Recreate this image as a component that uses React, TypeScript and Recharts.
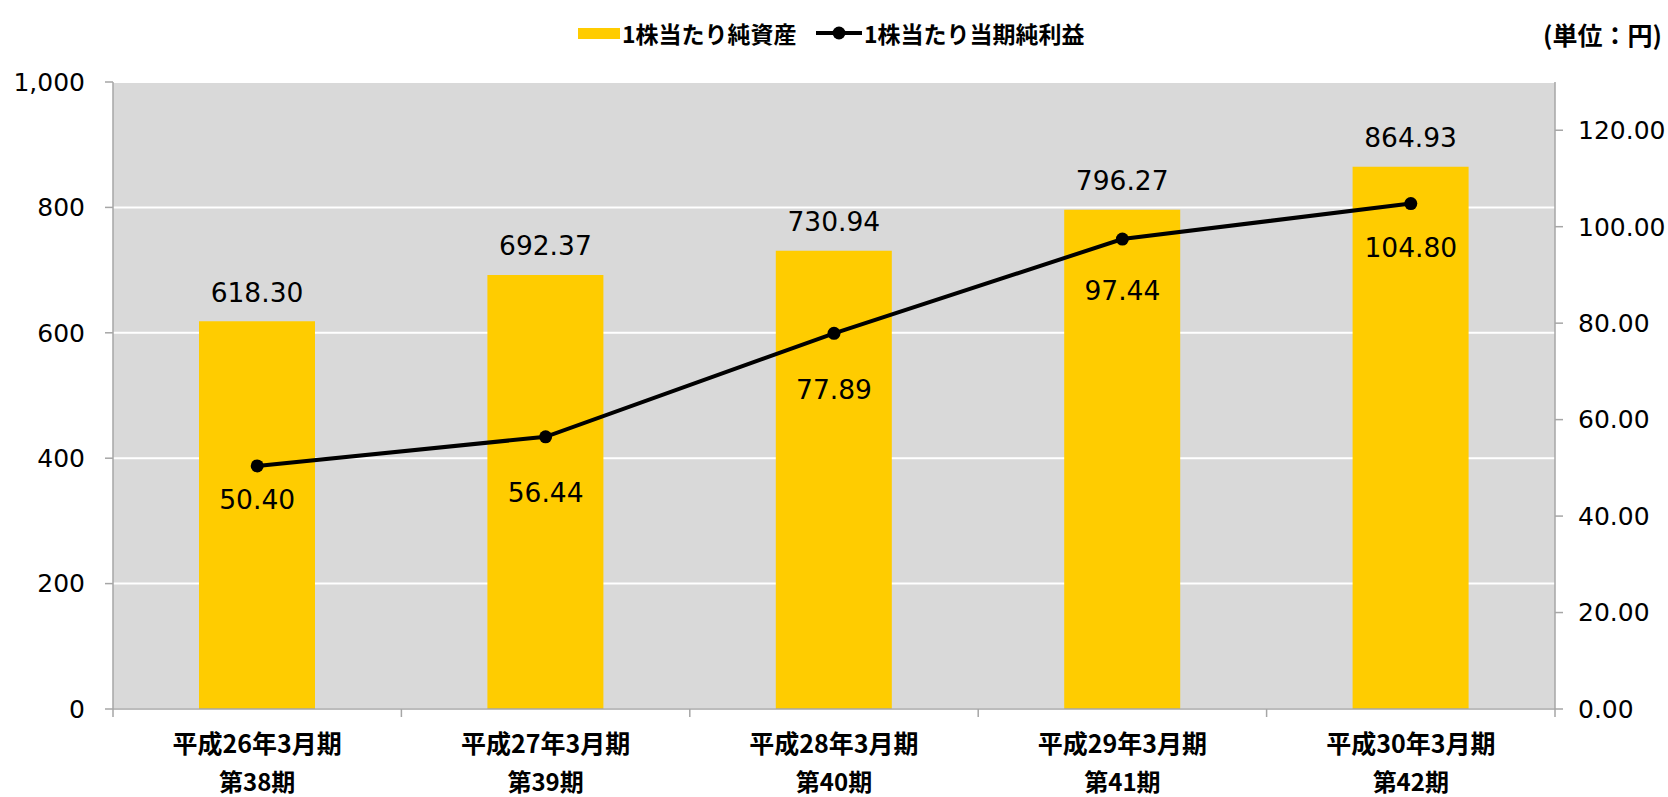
import React from 'react';
import {
  ComposedChart,
  Bar,
  Line,
  XAxis,
  YAxis,
  CartesianGrid,
  Legend,
  LabelList,
} from 'recharts';

const fiscalYears = ['平成26年3月期', '平成27年3月期', '平成28年3月期', '平成29年3月期', '平成30年3月期'];
const periods = ['第38期', '第39期', '第40期', '第41期', '第42期'];
const bookValuePerShare = [618.3, 692.37, 730.94, 796.27, 864.93];
const earningsPerShare = [50.4, 56.44, 77.89, 97.44, 104.8];
const leftTicks = [0, 200, 400, 600, 800, 1000];
const rightTicks = [0, 20, 40, 60, 80, 100, 120];

const data = fiscalYears.map((fy, i) => ({
  name: fy,
  period: periods[i],
  bps: bookValuePerShare[i],
  eps: earningsPerShare[i],
}));

const W = 1668;
const H = 797;
const PLOT_LEFT = 113;
const PLOT_RIGHT = 1555;
const PLOT_TOP = 82;
const PLOT_BOTTOM = 709;
const BAND = (PLOT_RIGHT - PLOT_LEFT) / fiscalYears.length;
const AXIS_COLOR = '#A6A6A6';
const NUM_FONT = '"DejaVu Sans", Verdana, sans-serif';
const CJK_FONT = '"Noto Sans CJK JP", "Noto Sans", sans-serif';
const EPS_LABEL_DY = [34, 56, 56, 51, 44];
const BPS_LABEL_DY = 29;

const XTick = (props: any) => {
  const { x, y, index } = props;
  const isLast = index === fiscalYears.length - 1;
  return (
    <g>
      <line x1={x - BAND / 2} y1={y} x2={x - BAND / 2} y2={y + 8} stroke={AXIS_COLOR} strokeWidth={1.5} />
      {isLast && (
        <line x1={x + BAND / 2} y1={y} x2={x + BAND / 2} y2={y + 8} stroke={AXIS_COLOR} strokeWidth={1.5} />
      )}
      <text x={x} y={y + 33} textAnchor="middle" dominantBaseline="central" fontFamily={CJK_FONT} fontWeight={700} fontSize={25} fill="#000">
        {fiscalYears[index]}
      </text>
      <text x={x} y={y + 71} textAnchor="middle" dominantBaseline="central" fontFamily={CJK_FONT} fontWeight={700} fontSize={24} fill="#000">
        {periods[index]}
      </text>
    </g>
  );
};

const BpsLabel = (props: any) => {
  const { x, y, width, value } = props;
  return (
    <text x={x + width / 2} y={y - BPS_LABEL_DY} textAnchor="middle" dominantBaseline="central" fontFamily={NUM_FONT} fontSize={26.5} fill="#000">
      {Number(value).toFixed(2)}
    </text>
  );
};

const EpsLabel = (props: any) => {
  const { x, y, value, index } = props;
  return (
    <text x={x} y={y + EPS_LABEL_DY[index]} textAnchor="middle" dominantBaseline="central" fontFamily={NUM_FONT} fontSize={26.5} fill="#000">
      {Number(value).toFixed(2)}
    </text>
  );
};

const LegendContent = () => (
  <svg width={W} height={60} style={{ display: 'block' }}>
    <rect x={578} y={28} width={42} height={11} fill="#FFCC00" />
    <text x={622} y={33} dominantBaseline="central" fontFamily={CJK_FONT} fontWeight={700} fontSize={23} fill="#000">
      1株当たり純資産
    </text>
    <line x1={816} y1={33} x2={862} y2={33} stroke="#000" strokeWidth={4} />
    <circle cx={839} cy={33} r={6.5} fill="#000" />
    <text x={864} y={33} dominantBaseline="central" fontFamily={CJK_FONT} fontWeight={700} fontSize={23} fill="#000">
      1株当たり当期純利益
    </text>
    <text x={1662} y={34} textAnchor="end" dominantBaseline="central" fontFamily={CJK_FONT} fontWeight={700} fontSize={25} fill="#000">
      (単位：円)
    </text>
  </svg>
);

export default function App() {
  return (
    <div style={{ position: 'absolute', left: 0, top: 0, width: W, height: H, background: '#fff' }}>
      <ComposedChart
        width={W}
        height={H}
        data={data}
        margin={{ top: PLOT_TOP, bottom: 0, left: 0, right: 0 }}
        barCategoryGap={0}
      >
        <CartesianGrid yAxisId="left" vertical={false} stroke="#FFFFFF" strokeWidth={2} fill="#D9D9D9" />
        <XAxis
          dataKey="name"
          height={H - PLOT_BOTTOM}
          axisLine={{ stroke: AXIS_COLOR, strokeWidth: 1.5 }}
          tickLine={false}
          tickSize={0}
          tickMargin={0}
          interval={0}
          tick={<XTick />}
        />
        <YAxis
          yAxisId="left"
          orientation="left"
          width={PLOT_LEFT}
          domain={[0, 1000]}
          ticks={leftTicks}
          tickFormatter={(v: number) => v.toLocaleString('en-US')}
          axisLine={{ stroke: AXIS_COLOR, strokeWidth: 1.5 }}
          tickLine={{ stroke: AXIS_COLOR, strokeWidth: 1.5 }}
          tickSize={8}
          tickMargin={20}
          tick={{ fill: '#000', fontSize: 25, fontFamily: NUM_FONT }}
          allowDataOverflow
        />
        <YAxis
          yAxisId="right"
          orientation="right"
          width={W - PLOT_RIGHT}
          domain={[0, 130]}
          ticks={rightTicks}
          tickFormatter={(v: number) => v.toFixed(2)}
          axisLine={{ stroke: AXIS_COLOR, strokeWidth: 1.5 }}
          tickLine={{ stroke: AXIS_COLOR, strokeWidth: 1.5 }}
          tickSize={8}
          tickMargin={15}
          tick={{ fill: '#000', fontSize: 25, fontFamily: NUM_FONT }}
          allowDataOverflow
        />
        <Legend
          layout="horizontal"
          verticalAlign="middle"
          align="center"
          wrapperStyle={{ top: 0, left: 0, width: W, height: 60 }}
          content={<LegendContent />}
        />
        <Bar yAxisId="left" dataKey="bps" fill="#FFCC00" barSize={116} isAnimationActive={false}>
          <LabelList dataKey="bps" content={<BpsLabel />} />
        </Bar>
        <Line
          yAxisId="right"
          dataKey="eps"
          type="linear"
          stroke="#000"
          strokeWidth={4}
          dot={{ r: 6.5, fill: '#000', stroke: '#000', strokeWidth: 0 }}
          activeDot={false}
          isAnimationActive={false}
        >
          <LabelList dataKey="eps" content={<EpsLabel />} />
        </Line>
      </ComposedChart>
    </div>
  );
}
